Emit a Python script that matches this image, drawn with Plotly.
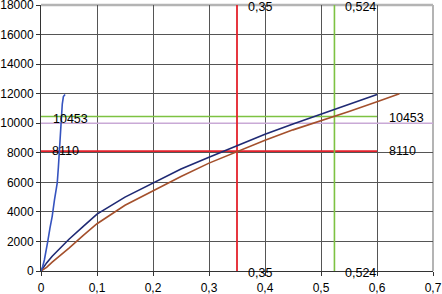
import plotly.graph_objects as go

# ---- data ----
x_tick_vals = [0, 0.1, 0.2, 0.3, 0.4, 0.5, 0.6, 0.7]
x_tick_labels = ["0", "0,1", "0,2", "0,3", "0,4", "0,5", "0,6", "0,7"]
y_tick_vals = [0, 2000, 4000, 6000, 8000, 10000, 12000, 14000, 16000, 18000]
y_tick_labels = ["0", "2000", "4000", "6000", "8000", "10000", "12000", "14000", "16000", "18000"]

steep_x = [0, 0.003, 0.006, 0.009, 0.012, 0.016, 0.020, 0.024, 0.027, 0.029, 0.031, 0.0327, 0.0345, 0.0357, 0.038, 0.040, 0.043]
steep_y = [0, 300, 744, 1300, 1985, 2900, 3700, 4800, 5500, 5955, 7000, 8250, 9400, 10450, 11300, 11800, 11950]

navy_x = [0, 0.01, 0.02, 0.03, 0.05, 0.075, 0.1, 0.15, 0.2, 0.25, 0.3, 0.35, 0.4, 0.45, 0.5, 0.55, 0.6]
navy_y = [0, 550, 1000, 1400, 2150, 3000, 3850, 5000, 5950, 6900, 7700, 8500, 9250, 9950, 10600, 11300, 11950]

brown_x = [0, 0.01, 0.02, 0.03, 0.05, 0.075, 0.1, 0.15, 0.2, 0.25, 0.3, 0.35, 0.4, 0.45, 0.5, 0.524, 0.55, 0.6, 0.64]
brown_y = [0, 250, 600, 900, 1550, 2400, 3200, 4450, 5450, 6400, 7300, 8100, 8850, 9550, 10150, 10453, 10800, 11450, 12000]

level_red = 8110
level_green = 10453
level_purple = 10000
strain_red = 0.35
strain_green = 0.524
level_x_end = 0.6
x_max = 0.7
y_max = 18000

fig = go.Figure()

def add_line(xs, ys, color, width):
    fig.add_trace(go.Scatter(x=xs, y=ys, mode="lines",
                             line=dict(color=color, width=width),
                             showlegend=False, hoverinfo="skip", cliponaxis=False))

# reference lines
add_line([0, x_max], [level_purple, level_purple], "#c9a9d6", 1.5)
add_line([0, level_x_end], [level_red, level_red], "#e4212b", 1.9)
add_line([0, level_x_end], [level_green, level_green], "#7dc242", 1.6)
add_line([strain_red, strain_red], [0, y_max], "#e4212b", 1.8)
add_line([strain_green, strain_green], [0, y_max], "#7dc242", 1.6)

# curves
add_line(navy_x, navy_y, "#1f2a74", 1.6)
add_line(brown_x, brown_y, "#a4502c", 1.6)
add_line(steep_x, steep_y, "#3553bf", 1.6)

font = dict(family="Liberation Sans, Arial, sans-serif", size=12.5, color="#000000")
tick_font = dict(family="Liberation Sans, Arial, sans-serif", size=12, color="#000000")

annotations = [
    dict(x=0.018, y=level_green, text=str(level_green), xanchor="left", yanchor="middle", yshift=-2),
    dict(x=0.016, y=level_red, text=str(level_red), xanchor="left", yanchor="middle"),
    dict(x=0.618, y=level_green, text=str(level_green), xanchor="left", yanchor="middle", yshift=-1),
    dict(x=0.618, y=level_red, text=str(level_red), xanchor="left", yanchor="middle"),
    dict(x=0.366, y=y_max, text="0,35", xanchor="left", yanchor="middle", yshift=-2),
    dict(x=0.366, y=0, text="0,35", xanchor="left", yanchor="middle", yshift=-2),
    dict(x=0.539, y=y_max, text="0,524", xanchor="left", yanchor="middle", yshift=-2),
    dict(x=0.539, y=0, text="0,524", xanchor="left", yanchor="middle", yshift=-2),
]
for a in annotations:
    a.update(xref="x", yref="y", showarrow=False, font=font)

fig.update_layout(
    width=442, height=294,
    margin=dict(l=41, r=9, t=5, b=23, autoexpand=False),
    paper_bgcolor="white", plot_bgcolor="white",
    font=font,
    annotations=annotations,
    shapes=[
        dict(type="line", xref="paper", yref="paper", x0=0, x1=1, y0=1, y1=1,
             line=dict(color="#b4b4b4", width=2.5), layer="below"),
        dict(type="line", xref="paper", yref="paper", x0=1, x1=1, y0=0, y1=1,
             line=dict(color="#b4b4b4", width=2), layer="below"),
    ],
)
fig.update_xaxes(range=[0, x_max], tickvals=x_tick_vals, ticktext=x_tick_labels,
                 showgrid=True, gridcolor="#555555", gridwidth=1, automargin=False,
                 ticklabeloverflow="allow", ticklabelstandoff=2,
                 zeroline=False, showline=True, linecolor="#333333", linewidth=1,
                 ticks="outside", ticklen=4, tickcolor="#333333", tickfont=tick_font)
fig.update_yaxes(range=[0, y_max], tickvals=y_tick_vals, ticktext=y_tick_labels,
                 showgrid=True, gridcolor="#555555", gridwidth=1, automargin=False,
                 ticklabeloverflow="allow",
                 zeroline=False, showline=True, linecolor="#333333", linewidth=1,
                 ticks="outside", ticklen=4, tickcolor="#333333", tickfont=tick_font)

fig.write_html("out.html", config={"displayModeBar": False},
               post_script="document.body.style.margin='0';document.body.style.overflow='hidden';")
